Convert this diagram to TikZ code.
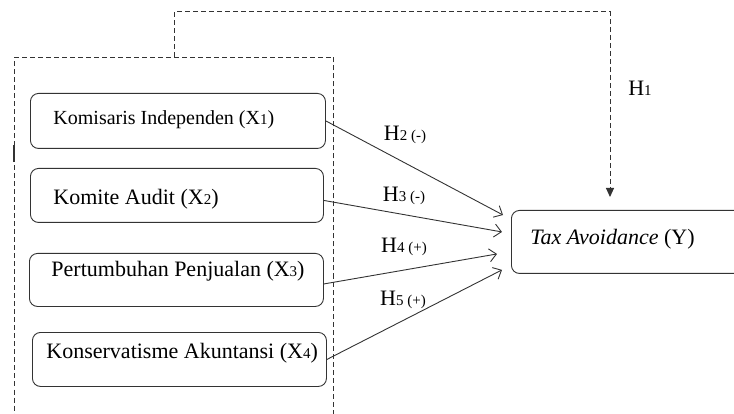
\documentclass[tikz,border=0pt]{standalone}
\usepackage{fontspec}
\setmainfont{Liberation Serif}
\usetikzlibrary{positioning,arrows.meta}
\newcommand{\smallpart}[1]{{\fontsize{15}{15}\selectfont #1}}

\begin{document}
\begin{tikzpicture}[x=1pt, y=-1pt, font=\fontsize{22}{26}\selectfont]
    \tikzstyle{varbox} = [draw=black!80, line width=0.9pt, rounded corners=8pt, anchor=north west, inner xsep=0pt, inner ysep=0pt, align=flush left, text height=16pt]
    \tikzstyle{frame} = [draw=black!80, line width=1pt, dash pattern=on 5pt off 3pt, anchor=north west, minimum width=319pt, minimum height=390pt]
    \tikzstyle{link} = [draw=black!80, line width=0.9pt, -{Straight Barb[length=7pt,width=13pt]}]
    \tikzstyle{moderation} = [draw=black!80, line width=1pt, dash pattern=on 5pt off 3pt, -{Triangle[length=9pt,width=8pt]}]
    \tikzstyle{hyp} = [inner sep=0pt]
    \useasboundingbox (0,0) rectangle (734,414);
    \clip (0,0) rectangle (734,414);

    \node [frame] (G) at (14,57) {};
    \draw [draw=black!80, line width=1.8pt] ([shift={(0,88)}]G.north west) -- ++(0,17);

    \node [varbox, text width=295pt, minimum height=55pt, text depth=8pt, font=\fontsize{20}{24}\selectfont] (X1) at (30,93) {\hspace*{23pt}Komisaris Independen (X\smallpart{1})};
    \node [varbox, text width=293pt, minimum height=54pt, text height=24pt, text depth=5pt] (X2) at (30,168) {\hspace*{23pt}Komite Audit (X\smallpart{2})};
    \node [varbox, text width=294pt, minimum height=53pt, text depth=22pt] (X3) at (29,253) {\hspace*{22pt}Pertumbuhan Penjualan (X\smallpart{3})};
    \node [varbox, text width=294pt, minimum height=54pt, text depth=17pt] (X4) at (32,332) {\hspace*{14pt}Konservatisme Akuntansi (X\smallpart{4})};

    \node [varbox, text width=250pt, minimum height=63pt, text depth=10pt] (Y) at (511,210) {\hspace*{19pt}\textit{Tax Avoidance} (Y)};

    \draw [link] (X1.east) -- ([shift={(-8,5)}]Y.north west);
    \draw [link] ([shift={(0,5)}]X2.east) -- ([shift={(-9,-10)}]Y.west);
    \draw [link] ([shift={(0,4)}]X3.east) -- ([shift={(-14,12)}]Y.west);
    \draw [link] (X4.east) -- ([shift={(-9,-4)}]Y.south west);

    \draw [moderation] (G.north) -- ++(0,-45) -| ([shift={(99,-13)}]Y.north west);

    \node [hyp] (H1) at (640,88) {H\smallpart{1}};
    \node [hyp] (H2) at (405,135) {H\smallpart{2 (-)}};
    \node [hyp] (H3) at (404,196) {H\smallpart{3 (-)}};
    \node [hyp] (H4) at (404,247) {H\smallpart{4 (+)}};
    \node [hyp] (H5) at (403,300) {H\smallpart{5 (+)}};
\end{tikzpicture}
\end{document}
